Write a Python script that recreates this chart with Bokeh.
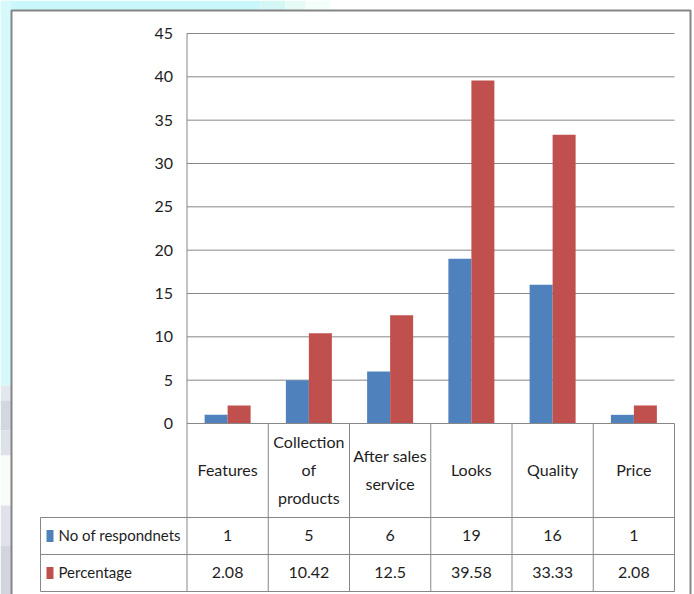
from bokeh.plotting import figure
from bokeh.models import Range1d
from bokeh.embed import file_html
from bokeh.resources import INLINE
from bokeh.core.properties import value

# ---- data ----
categories = ["Features", "Collection\nof\nproducts", "After sales\nservice", "Looks", "Quality", "Price"]
respondents = [1, 5, 6, 19, 16, 1]
percentage = [2.08, 10.42, 12.5, 39.58, 33.33, 2.08]
respondents_labels = ["1", "5", "6", "19", "16", "1"]
percentage_labels = ["2.08", "10.42", "12.5", "39.58", "33.33", "2.08"]
series_names = ["No of respondnets", "Percentage"]
y_ticks = [0, 5, 10, 15, 20, 25, 30, 35, 40, 45]

W, H = 694, 594
BLUE, RED = "#4F81BD", "#C0504D"
GRID = "#878787"
FONT = "Lato"
FS = "16px"
TXT = "#1e1e1e"

# plot-area geometry (pixels)
PX_LEFT, PX_RIGHT = 186.5, 674.0
PX_TOP, PX_ZERO = 33.0, 423.0
YMAX = 45.0
px_per_cat = (PX_RIGHT - PX_LEFT) / len(categories)
px_per_unit = (PX_ZERO - PX_TOP) / YMAX

x_range = Range1d(-PX_LEFT / px_per_cat, (W - PX_LEFT) / px_per_cat)
y_range = Range1d(-(H - PX_ZERO) / px_per_unit, YMAX + PX_TOP / px_per_unit)

p = figure(width=W, height=H, x_range=x_range, y_range=y_range,
           output_backend="svg", toolbar_location=None,
           min_border=0, min_border_left=0, min_border_right=0,
           min_border_top=0, min_border_bottom=0)
p.extra_x_ranges = {"px": Range1d(0, W)}
p.extra_y_ranges = {"px": Range1d(H, 0)}
p.axis.visible = False
p.grid.visible = False
p.outline_line_color = None
p.background_fill_color = "white"
p.border_fill_color = "white"

PX = dict(x_range_name="px", y_range_name="px")

# slide backdrop showing around the chart frame
p.quad(left=[0], right=[260], top=[0], bottom=[10], color="#c9f7fb", line_color=None, **PX)
p.quad(left=[260, 285, 305], right=[285, 305, 330], top=[0, 0, 0], bottom=[10, 10, 10],
       color=["#d4f6f4", "#e6fbf6", "#f4fefa"], line_color=None, **PX)
p.quad(left=[0], right=[11], top=[0], bottom=[385], color="#d6fafb", line_color=None, **PX)
p.quad(left=[0, 0, 0, 0, 0, 0], right=[11] * 6,
       top=[385, 400, 430, 455, 505, 545], bottom=[400, 430, 455, 505, 545, 594],
       color=["#e2e8ee", "#d3d7e0", "#dde1e8", "#f8fcf8", "#e0e1ea", "#d2d5de"],
       line_color=None, **PX)

# chart frame
p.quad(left=[11], right=[690], top=[10], bottom=[600], fill_color="white",
       line_color="#858585", line_width=2, **PX)

# horizontal gridlines
grid_vals = [t for t in y_ticks if t > 0]
p.segment(x0=[0] * len(grid_vals), x1=[len(categories)] * len(grid_vals),
          y0=grid_vals, y1=grid_vals, line_color=GRID, line_width=1)

# bars
idx = list(range(len(categories)))
bw = 23.0 / px_per_cat
p.vbar(x=[i + 0.5 - bw / 2 for i in idx], top=respondents, width=bw, bottom=0,
       color=BLUE, line_color=None)
p.vbar(x=[i + 0.5 + bw / 2 for i in idx], top=percentage, width=bw, bottom=0,
       color=RED, line_color=None)

# y tick labels
p.text(x=[-14 / px_per_cat] * len(y_ticks), y=y_ticks, text=[str(t) for t in y_ticks],
       text_align="right", text_baseline="middle", text_font=value(FONT),
       text_font_size=FS, text_color=TXT)

# data table below the plot
ROW_CAT_BOT, ROW1_BOT, ROW2_BOT = 517.0, 554.0, 591.0
LEG_LEFT = 40.0
n = len(categories)
to_px = lambda c: PX_LEFT + c * px_per_cat
# axis line / table verticals
p.segment(x0=[PX_LEFT], x1=[PX_LEFT], y0=[PX_TOP], y1=[ROW2_BOT], line_color=GRID, **PX)
p.segment(x0=[to_px(k) for k in range(1, n + 1)], x1=[to_px(k) for k in range(1, n + 1)],
          y0=[PX_ZERO] * n, y1=[ROW2_BOT] * n, line_color=GRID, **PX)
p.segment(x0=[LEG_LEFT], x1=[LEG_LEFT], y0=[ROW_CAT_BOT], y1=[ROW2_BOT], line_color=GRID, **PX)
# table horizontals
p.segment(x0=[PX_LEFT, LEG_LEFT, LEG_LEFT, LEG_LEFT], x1=[PX_RIGHT] * 4,
          y0=[PX_ZERO, ROW_CAT_BOT, ROW1_BOT, ROW2_BOT],
          y1=[PX_ZERO, ROW_CAT_BOT, ROW1_BOT, ROW2_BOT], line_color=GRID, **PX)

centers = [i + 0.5 for i in idx]
cat_y = (PX_ZERO + ROW_CAT_BOT) / 2 - 1
p.text(x=centers, y=[cat_y] * n, text=categories, y_range_name="px",
       text_align="center", text_baseline="middle", text_line_height=1.45,
       text_font=value(FONT), text_font_size=FS, text_color=TXT)
p.text(x=centers, y=[(ROW_CAT_BOT + ROW1_BOT) / 2 - 1] * n, text=respondents_labels, y_range_name="px",
       text_align="center", text_baseline="middle",
       text_font=value(FONT), text_font_size=FS, text_color=TXT)
p.text(x=centers, y=[(ROW1_BOT + ROW2_BOT) / 2 - 1] * n, text=percentage_labels, y_range_name="px",
       text_align="center", text_baseline="middle",
       text_font=value(FONT), text_font_size=FS, text_color=TXT)

# legend keys in the first column
row_mid = [(ROW_CAT_BOT + ROW1_BOT) / 2, (ROW1_BOT + ROW2_BOT) / 2]
p.quad(left=[46, 46], right=[53, 53], top=[m - 6 for m in row_mid], bottom=[m + 6 for m in row_mid],
       color=[BLUE, RED], line_color=None, **PX)
p.text(x=[58, 58], y=[m - 1 for m in row_mid], text=series_names, text_align="left",
       text_baseline="middle", text_font=value(FONT), text_font_size="15px",
       text_color=TXT, **PX)

open("out.html", "w").write(file_html(p, INLINE))
